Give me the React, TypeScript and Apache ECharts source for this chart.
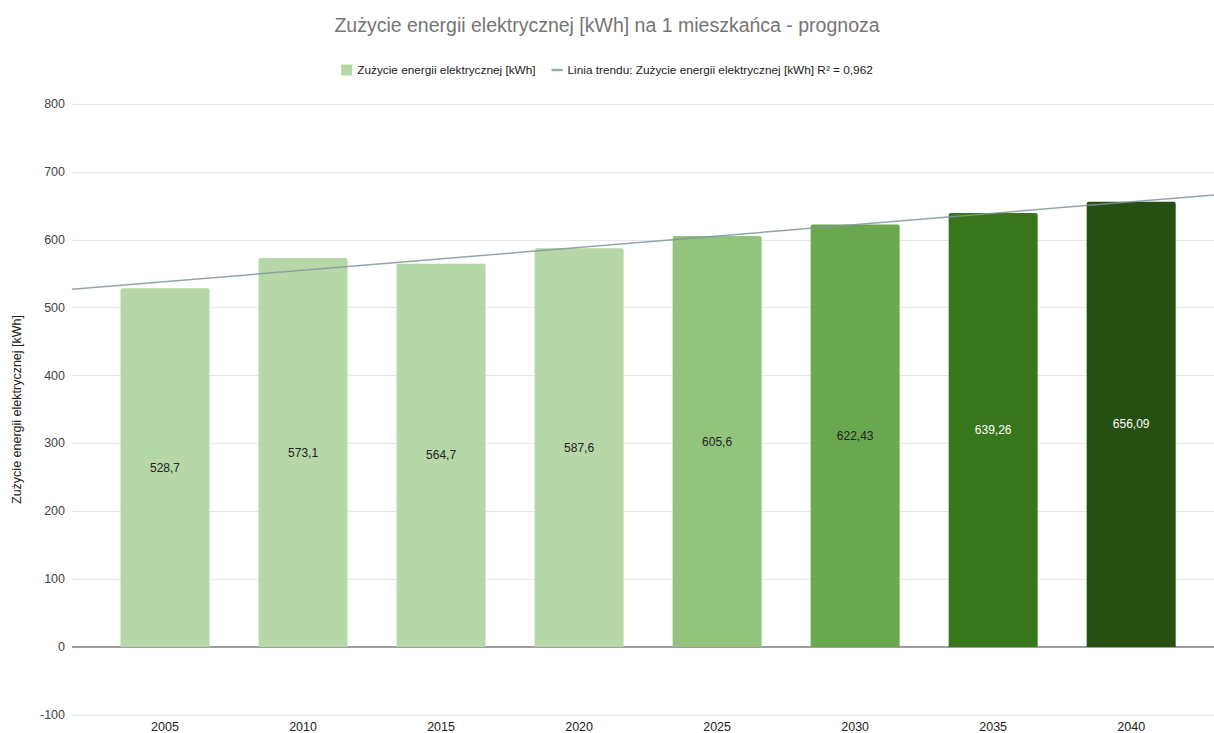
import React, { useEffect, useRef } from "react";
import * as echarts from "echarts";

const title = "Zużycie energii elektrycznej [kWh] na 1 mieszkańca - prognoza";
const barName = "Zużycie energii elektrycznej [kWh]";
const trendName = "Linia trendu: Zużycie energii elektrycznej [kWh] R² = 0,962";
const yAxisName = "Zużycie energii elektrycznej [kWh]";

const years = [2005, 2010, 2015, 2020, 2025, 2030, 2035, 2040];
const values = [528.7, 573.1, 564.7, 587.6, 605.6, 622.43, 639.26, 656.09];
const valueLabels = ["528,7", "573,1", "564,7", "587,6", "605,6", "622,43", "639,26", "656,09"];
const barColors = ["#b6d7a8", "#b6d7a8", "#b6d7a8", "#b6d7a8", "#93c47d", "#6aa84f", "#38761d", "#274e13"];
const labelColors = ["#222", "#222", "#222", "#222", "#222", "#222", "#ffffff", "#ffffff"];

// trend line end points
const trendYears = [2001.63, 2043];
const trendValues = [527, 666];

const yTicks = { min: -100, max: 800, interval: 100 };
const xRange = { min: 2001.63, max: 2043 };

export default function App() {
  const ref = useRef<HTMLDivElement>(null);
  useEffect(() => {
    if (!ref.current) return;
    const chart = echarts.init(ref.current, undefined, { renderer: "svg" });
    const font = "'Liberation Sans', Arial, sans-serif";
    chart.setOption({
      animation: false,
      backgroundColor: "#ffffff",
      textStyle: { fontFamily: font },
      title: {
        text: title,
        left: "center",
        top: 10,
        textStyle: { fontFamily: font, fontSize: 19.5, fontWeight: "normal", color: "#757575" },
      },
      legend: {
        top: 59,
        left: "center",
        itemWidth: 11,
        itemHeight: 11,
        itemGap: 16,
        textStyle: { fontFamily: font, fontSize: 11.8, color: "#222" },
        data: [
          { name: barName, icon: "rect" },
          { name: trendName, icon: "path://M0 0H10V2.2H0Z" },
        ],
      },
      grid: { left: 72, right: 0, top: 104, bottom: 17, containLabel: false },
      xAxis: {
        type: "value",
        min: xRange.min,
        max: xRange.max,
        axisLine: { show: false },
        axisTick: { show: false },
        splitLine: { show: false },
        axisLabel: {
          customValues: years,
          color: "#222",
          fontSize: 12.5,
          margin: 5,
          fontFamily: font,
          formatter: (v: number) => String(Math.round(v)),
        },
      },
      yAxis: {
        type: "value",
        min: yTicks.min,
        max: yTicks.max,
        interval: yTicks.interval,
        name: yAxisName,
        nameLocation: "middle",
        nameGap: 49,
        nameTextStyle: { fontFamily: font, fontSize: 12.5, color: "#222" },
        axisLine: { show: false },
        axisTick: { show: false },
        axisLabel: { color: "#444", fontSize: 12.5, margin: 7, fontFamily: font },
        splitLine: { show: true, lineStyle: { color: "#e6e6e6", width: 1 } },
      },
      series: [
        {
          name: barName,
          type: "bar",
          barWidth: 89,
          itemStyle: { color: barColors[0], borderRadius: [2, 2, 0, 0] },
          data: years.map((y, i) => ({
            value: [y, values[i]],
            itemStyle: { color: barColors[i] },
            label: {
              show: true,
              position: "inside",
              formatter: valueLabels[i],
              color: labelColors[i],
              fontSize: 12,
              fontFamily: font,
            },
          })),
          markLine: {
            silent: true,
            symbol: "none",
            label: { show: false },
            lineStyle: { color: "#9e9e9e", width: 2, type: "solid" },
            data: [{ yAxis: 0 }],
            z: 1,
          },
          z: 2,
        },
        {
          name: trendName,
          type: "line",
          showSymbol: false,
          symbol: "none",
          color: "#9aabb0",
          lineStyle: { color: "#7f979e", width: 1.5, opacity: 0.85 },
          data: trendYears.map((y, i) => [y, trendValues[i]]),
          z: 5,
        },
      ],
    });
    return () => chart.dispose();
  }, []);
  return (
    <div
      ref={ref}
      style={{ position: "fixed", left: 0, top: 0, width: 1214, height: 733 }}
    />
  );
}
